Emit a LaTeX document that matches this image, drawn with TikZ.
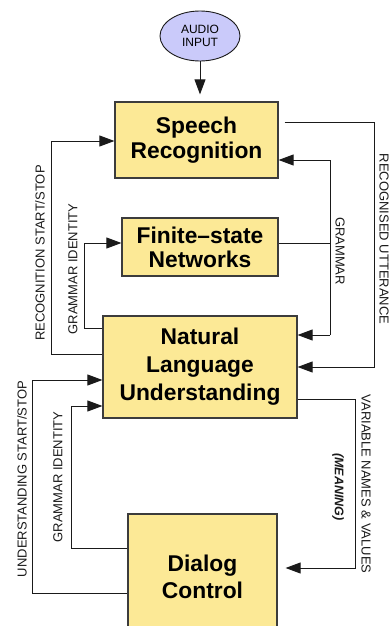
\documentclass[tikz,border=0pt]{standalone}
\usepackage{fontspec}
\setmainfont{Liberation Sans}
\usetikzlibrary{arrows.meta,shapes.geometric}
\definecolor{boxfill}{HTML}{FCE996}
\definecolor{ellfill}{HTML}{CACAFA}
\definecolor{linec}{HTML}{1A1A1A}
\begin{document}
\begin{tikzpicture}[x=1pt,y=-1pt,
  blk/.style={draw=linec!85, line width=1.2pt, fill=boxfill, align=center, inner sep=0pt,
    font=\bfseries\fontsize{22.8}{25}\selectfont},
  lab/.style={font=\fontsize{13}{15}\selectfont, inner sep=0pt, text=linec},
  conn/.style={draw=linec, line width=0.9pt},
  arr/.style={conn, -{Triangle[length=15pt,width=11pt]}}
]
\useasboundingbox (0,0) rectangle (389,626);
\clip (0,0) rectangle (389,626);

% nodes
\node[ellipse, draw=linec, line width=0.9pt, fill=ellfill, minimum width=80pt, minimum height=50pt,
  inner sep=0pt, align=center, font=\fontsize{12}{13}\selectfont] (audio) at (200,36) {AUDIO\\INPUT};
\node[blk, minimum width=163pt, minimum height=76pt] (sr) at (196.5,140) {Speech\\Recognition};
\node[blk, minimum width=156pt, minimum height=58pt, font=\bfseries\fontsize{22.8}{24}\selectfont] (fsn) at (200,247) {Finite--state\\Networks};
\node[blk, minimum width=194pt, minimum height=102pt, font=\bfseries\fontsize{22.8}{28}\selectfont] (nlu) at (200,367) {Natural\\Language\\Understanding};
\node[blk, minimum width=149pt, minimum height=126pt, font=\bfseries\fontsize{22.8}{27}\selectfont] (dc) at (202.5,577) {Dialog\\Control};

% coordinates
\coordinate (ru) at (374,367);
\coordinate (gt) at (330,160);
\coordinate (gb) at (330,335);
\coordinate (gj) at (330,243);
\coordinate (gi1) at (84,243);
\coordinate (rs) at (51,141);
\coordinate (us) at (32,380);
\coordinate (gi2) at (71,406);
\coordinate (vn) at (355,568);

% connectors
\draw[arr, shorten >=7pt] (audio.south) -- (audio.south |- sr.north);
\draw[arr] ([xshift=6pt]sr.east |- 0,122) -| (ru) -- (nlu.east |- ru);
\draw[conn] (gt) -- (gb);
\draw[arr] (gt) -- (sr.east |- gt);
\draw[arr] (gb) -- (nlu.east |- gb);
\draw[conn] (fsn.east |- gj) -- (gj);
\draw[arr] (nlu.west |- 0,328) -| (gi1) -- (fsn.west |- gi1);
\draw[arr] (nlu.west |- 0,354) -| (rs) -- (sr.west |- rs);
\draw[arr] (dc.west |- 0,593) -| (us) -- (nlu.west |- us);
\draw[arr] (dc.west |- 0,548) -| (gi2) -- (nlu.west |- gi2);
\draw[arr, shorten >=8pt] (nlu.east |- 0,399) -| (vn) -- (dc.east |- vn);

% labels
\node[lab, rotate=90] (l1) at (40,253) {RECOGNITION START/STOP};
\node[lab, rotate=90] (l2) at (73,269) {GRAMMAR IDENTITY};
\node[lab, rotate=90] (l3) at (22,479) {UNDERSTANDING START/STOP};
\node[lab, rotate=90] (l4) at (58,477) {GRAMMAR IDENTITY};
\node[lab, rotate=-90] (l5) at (384,239) {RECOGNISED UTTERANCE};
\node[lab, rotate=-90] (l6) at (340,251) {GRAMMAR};
\node[lab, rotate=-90] (l7) at (366,484) {VARIABLE NAMES \& VALUES};
\node[lab, rotate=-90, font=\bfseries\itshape\fontsize{12.5}{14}\selectfont] (l8) at (338,487) {(MEANING)};
\end{tikzpicture}
\end{document}
